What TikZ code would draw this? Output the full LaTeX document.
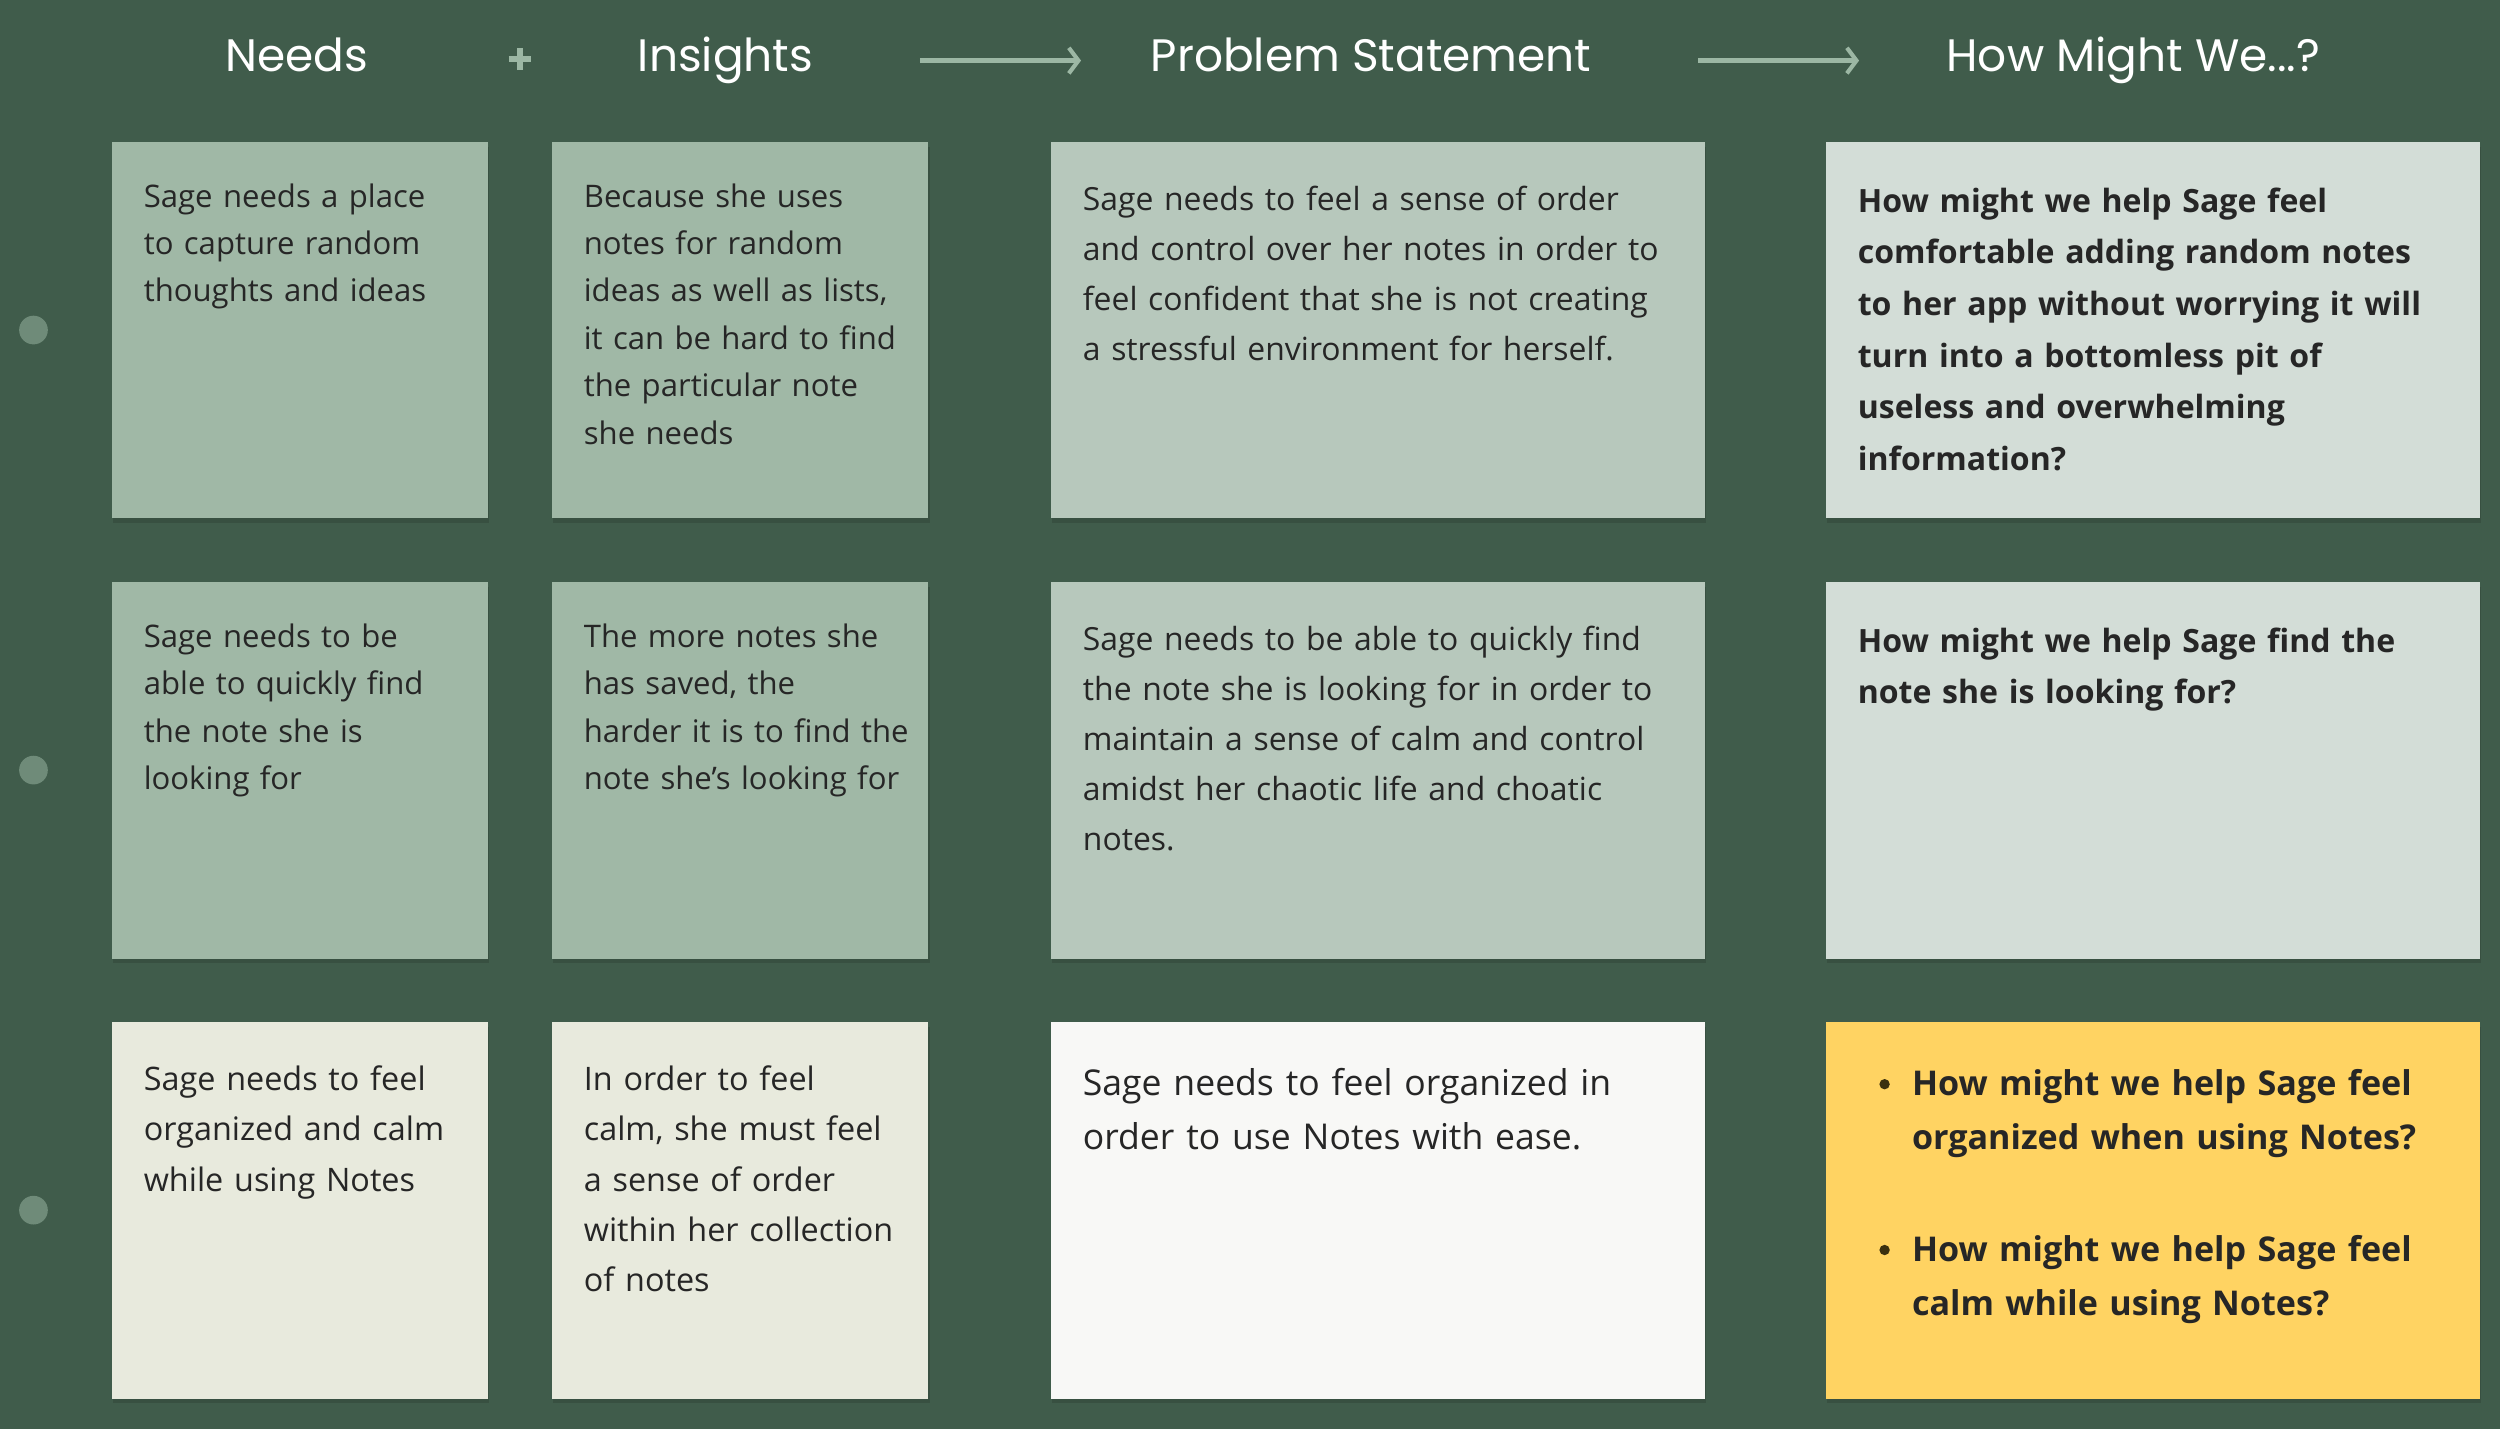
\documentclass[tikz,border=0pt]{standalone}
\usepackage{fontspec}
\setmainfont{Open Sans}
\newfontfamily\headfont{Poppins}
\usetikzlibrary{arrows.meta}
\definecolor{bgc}{HTML}{405C4B}
\definecolor{cA}{HTML}{A0B8A6}
\definecolor{cB}{HTML}{B7C8BC}
\definecolor{cC}{HTML}{D3DDD7}
\definecolor{cD}{HTML}{E8EADD}
\definecolor{cE}{HTML}{F8F8F6}
\definecolor{cY}{HTML}{FFD362}
\definecolor{dotc}{HTML}{6F8B79}
\definecolor{arrc}{HTML}{9CB7A4}
\definecolor{txt}{HTML}{262626}
\definecolor{ytxt}{HTML}{3B300F}
\tikzset{
  card/.style={anchor=north west, inner sep=0pt, minimum width=#1, minimum height=236pt},
  narrow/.style={card=236pt},
  wide/.style={card=410pt},
  shadowbox/.style={fill=black, opacity=0.12},
  head/.style={text=white, font=\headfont\fontsize{28.5}{34}\selectfont, inner sep=0pt, anchor=base},
  body/.style={anchor=base west, inner sep=0pt, text=txt, align=left, text width=#1},
  sA/.style={body=232pt, font=\fontsize{19.5}{29.7}\selectfont},
  sA3/.style={body=232pt, font=\fontsize{20.3}{31.5}\selectfont},
  sB/.style={body=395pt, font=\fontsize{20.0}{31.4}\selectfont},
  sB3/.style={body=395pt, font=\fontsize{22.3}{34}\selectfont},
  sC/.style={body=400pt, font=\bfseries\fontsize{20.1}{32.4}\selectfont},
  sC3/.style={body=400pt, text=ytxt, font=\bfseries\fontsize{21.4}{34}\selectfont},
  flowarrow/.style={draw=arrc, line width=3pt, -{Straight Barb[length=6pt,width=16pt,line width=2.6pt]}},
  dot/.style={circle, fill=dotc, inner sep=0pt, minimum size=18pt},
}
\begin{document}
\begin{tikzpicture}[x=1pt,y=-1pt]
\fill[bgc] (0,0) rectangle (1568,896);
\useasboundingbox (0,0) rectangle (1568,896);

% headers
\node[head] (hN) at (186,45) {Needs};
\node[head] (hI) at (455,45) {Insights};
\node[head] (hP) at (860,45) {Problem Statement};
\node[head] (hH) at (1338,45) {How Might We...?};
\coordinate (plus) at (326,37);
\draw[arrc, line width=3.6pt] ([xshift=-7pt]plus) -- ([xshift=7pt]plus);
\draw[arrc, line width=3.6pt] ([yshift=-7pt]plus) -- ([yshift=7pt]plus);
\coordinate (a1s) at (577,38); \coordinate (a1e) at (678,38);
\coordinate (a2s) at (1065,38); \coordinate (a2e) at (1166,38);
\draw[flowarrow] (a1s) -- (a1e);
\draw[flowarrow] (a2s) -- (a2e);

% dots
\node[dot] (d1) at (21,207) {};
\node[dot] (d2) at (21,483) {};
\node[dot] (d3) at (21,759) {};

% shadows
\foreach \x/\w in {70/236,346/236,659/410,1145/410}{
  \foreach \y in {89,365,641}{
    \fill[shadowbox] (\x+1,\y+3) rectangle (\x+\w+1,\y+239);
  }
}

% cards row 1
\node[narrow, fill=cA] (b11) at (70,89) {};
\node[narrow, fill=cA] (b12) at (346,89) {};
\node[wide, fill=cB] (b13) at (659,89) {};
\node[wide, fill=cC] (b14) at (1145,89) {};
% row 2
\node[narrow, fill=cA] (b21) at (70,365) {};
\node[narrow, fill=cA] (b22) at (346,365) {};
\node[wide, fill=cB] (b23) at (659,365) {};
\node[wide, fill=cC] (b24) at (1145,365) {};
% row 3
\node[narrow, fill=cD] (b31) at (70,641) {};
\node[narrow, fill=cD] (b32) at (346,641) {};
\node[wide, fill=cE] (b33) at (659,641) {};
\node[wide, fill=cY] (b34) at (1145,641) {};

% texts row 1
\node[sA] (t11) at (90,130) {Sage needs a place\\to capture random\\thoughts and ideas};
\node[sA] (t12) at (366,130) {Because she uses\\notes for random\\ideas as well as lists,\\it can be hard to find\\the particular note\\she needs};
\node[sB] (t13) at (679,132) {Sage needs to feel a sense of order\\and control over her notes in order to\\feel confident that she is not creating\\a stressful environment for herself.};
\node[sC] (t14) at (1165,133) {How might we help Sage feel\\comfortable adding random notes\\to her app without worrying it will\\turn into a bottomless pit of\\useless and overwhelming\\information?};
% texts row 2
\node[sA] (t21) at (90,406) {Sage needs to be\\able to quickly find\\the note she is\\looking for};
\node[sA] (t22) at (366,406) {The more notes she\\has saved, the\\harder it is to find the\\note she’s looking for};
\node[sB] (t23) at (679,408) {Sage needs to be able to quickly find\\the note she is looking for in order to\\maintain a sense of calm and control\\amidst her chaotic life and choatic\\notes.};
\node[sC] (t24) at (1165,409) {How might we help Sage find the\\note she is looking for?};
% texts row 3
\node[sA3] (t31) at (90,684) {Sage needs to feel\\organized and calm\\while using Notes};
\node[sA3] (t32) at (366,684) {In order to feel\\calm, she must feel\\a sense of order\\within her collection\\of notes};
\node[sB3] (t33) at (679,687) {Sage needs to feel organized in\\order to use Notes with ease.};
\node[circle, fill=ytxt, inner sep=0pt, minimum size=6.5pt] (bu1) at (1182,680) {};
\node[circle, fill=ytxt, inner sep=0pt, minimum size=6.5pt] (bu2) at (1182,784) {};
\node[sC3, body=355pt] (t34a) at (1199,687) {How might we help Sage feel\\organized when using Notes?};
\node[sC3, body=355pt] (t34b) at (1199,791) {How might we help Sage feel\\calm while using Notes?};
\end{tikzpicture}
\end{document}
